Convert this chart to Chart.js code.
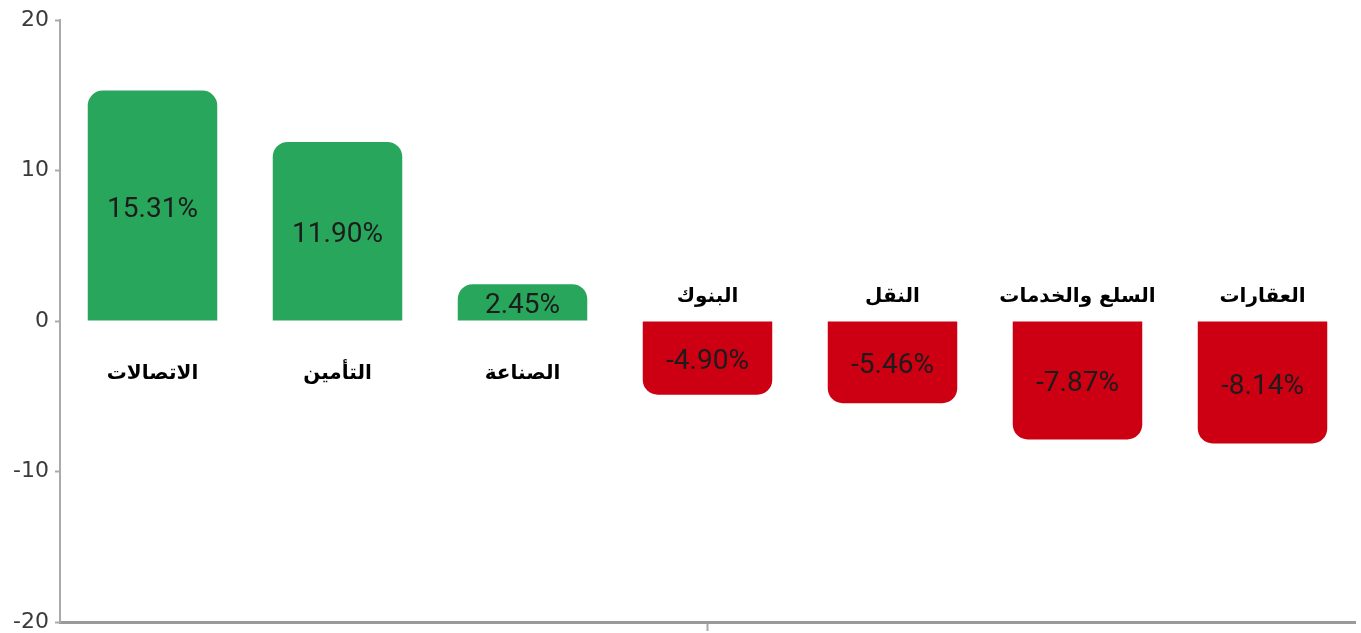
<!DOCTYPE html>
<html><head><meta charset="utf-8">
<script src="https://cdn.jsdelivr.net/npm/chart.js@4.4.1/dist/chart.umd.min.js"></script>
<style>html,body{margin:0;padding:0;background:#fff;}canvas{display:block;}</style>
</head><body>
<canvas id="c" width="1361" height="633"></canvas>
<script>
const categories = ['الاتصالات','التأمين','الصناعة','البنوك','النقل','السلع والخدمات','العقارات'];
const values = [15.31, 11.90, 2.45, -4.90, -5.46, -7.87, -8.14];
const yTicks = [20, 10, 0, -10, -20];
const GREEN = '#28a65b', RED = '#cc0012';

const labelPlugin = {
  id: 'labels',
  afterDatasetsDraw(chart) {
    const ctx = chart.ctx;
    const meta = chart.getDatasetMeta(0);
    const ys = chart.scales.y;
    const zero = ys.getPixelForValue(0);
    ctx.save();
    ctx.textAlign = 'center';
    ctx.textBaseline = 'middle';
    meta.data.forEach((bar, i) => {
      const v = values[i];
      ctx.fillStyle = '#1c1c1c';
      ctx.font = '400 28px Roboto';
      ctx.fillText(v.toFixed(2) + '%', bar.x, (bar.y + bar.base) / 2 + 4);
      ctx.fillStyle = '#000';
      ctx.font = 'bold 20px "DejaVu Sans"';
      ctx.direction = 'rtl';
      const y = v >= 0 ? zero + 53 : zero - 24;
      ctx.fillText(categories[i], bar.x, y);
      ctx.direction = 'ltr';
    });
    ctx.restore();
  }
};

new Chart(document.getElementById('c'), {
  type: 'bar',
  data: {
    labels: categories,
    datasets: [{
      data: values,
      backgroundColor: values.map(v => v >= 0 ? GREEN : RED),
      borderRadius: 15,
      borderSkipped: 'start',
      barPercentage: 0.7,
      categoryPercentage: 1.0
    }]
  },
  options: {
    responsive: false,
    animation: false,
    layout: { padding: { top: 20, right: 6, left: 0, bottom: 0 } },
    plugins: { legend: { display: false }, tooltip: { enabled: false } },
    scales: {
      x: {
        afterFit(s) { s.height = 11; s.paddingLeft = 0; s.paddingRight = 0; },
        ticks: { display: false },
        grid: {
          offset: false,
          drawOnChartArea: false,
          tickLength: 9,
          tickWidth: 2,
          color: (c) => c.index === 3 ? '#a8a8a8' : 'rgba(0,0,0,0)'
        },
        border: { display: true, color: '#9a9a9a', width: 3 }
      },
      y: {
        min: -20, max: 20,
        afterFit(s) { s.width = 60; s.paddingTop = 0; s.paddingBottom = 0; },
        afterBuildTicks(s) { s.ticks = yTicks.map(v => ({ value: v })); },
        ticks: {
          color: '#3a3a3a',
          font: { family: '"DejaVu Sans"', size: 22 },
          padding: 6
        },
        grid: { drawOnChartArea: false, tickLength: 5, color: '#aaa', tickWidth: 2 },
        border: { display: true, color: '#aaa', width: 2 }
      }
    }
  },
  plugins: [labelPlugin]
});
</script>
</body></html>
